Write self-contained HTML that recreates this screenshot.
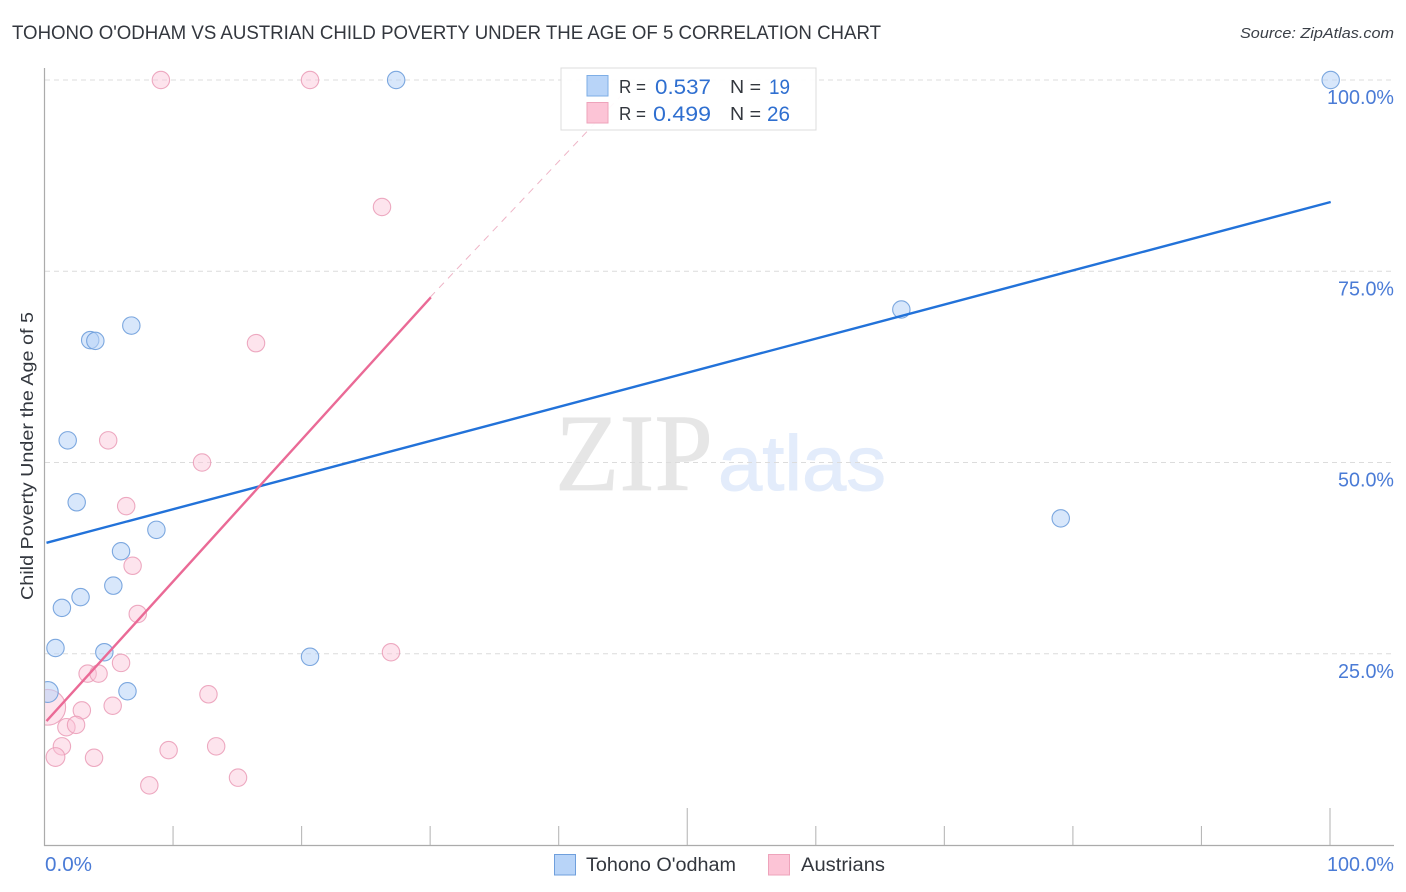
<!DOCTYPE html>
<html>
<head>
<meta charset="utf-8">
<title>Tohono O'odham vs Austrian Child Poverty Correlation Chart</title>
<style>
html,body{margin:0;padding:0;background:#fff;}
svg{display:block;font-family:"Liberation Sans",sans-serif;}
</style>
</head>
<body>
<svg id="chart" xmlns="http://www.w3.org/2000/svg" width="1406" height="892" viewBox="0 0 1406 892">
  <defs>
    <clipPath id="plot-clip"><rect x="45" y="60" width="1361" height="785"/></clipPath>
  </defs>
  <text x="12" y="39" font-size="19" fill="#33373e" textLength="869" lengthAdjust="spacingAndGlyphs">TOHONO O'ODHAM VS AUSTRIAN CHILD POVERTY UNDER THE AGE OF 5 CORRELATION CHART</text>
  <text x="1394" y="38" font-size="15" font-style="italic" fill="#3a3f47" text-anchor="end" textLength="154" lengthAdjust="spacingAndGlyphs">Source: ZipAtlas.com</text>
  <text transform="translate(33,456) rotate(-90)" font-size="17.5" fill="#33373e" text-anchor="middle" textLength="288" lengthAdjust="spacingAndGlyphs">Child Poverty Under the Age of 5</text>

  <g>
    <text x="555" y="490" font-family="'Liberation Serif',serif" font-size="110" fill="#e6e6e6" stroke="#e6e6e6" stroke-width="0.7" textLength="158" lengthAdjust="spacingAndGlyphs">ZIP</text>
    <text x="718" y="490" font-size="78" fill="#e3ecfb" stroke="#e3ecfb" stroke-width="1" textLength="168" lengthAdjust="spacingAndGlyphs">atlas</text>
  </g>

  <g id="grid"></g>
  <g id="axes"></g>
  <g id="points" clip-path="url(#plot-clip)"></g>
  <g id="trends"></g>
  <g id="labels"></g>

  <g>
    <rect x="561" y="68" width="255" height="62" fill="#fff" fill-opacity="0.93" stroke="#dcdcdc" stroke-width="1"/>
    <rect x="587" y="75.5" width="21" height="20.5" fill="#b8d4f8" stroke="#7eaee6" stroke-width="1"/>
    <rect x="587" y="102.5" width="21" height="20.5" fill="#fcc4d6" stroke="#eea3bb" stroke-width="1"/>
    <text x="619" y="93" font-size="18" fill="#33373e" textLength="27" lengthAdjust="spacingAndGlyphs">R =</text>
    <text x="711" y="94" font-size="21" fill="#2f6fd0" text-anchor="end" textLength="56" lengthAdjust="spacingAndGlyphs">0.537</text>
    <text x="730" y="93" font-size="18" fill="#33373e" textLength="31" lengthAdjust="spacingAndGlyphs">N =</text>
    <text x="790" y="94" font-size="21" fill="#2f6fd0" text-anchor="end" textLength="21" lengthAdjust="spacingAndGlyphs">19</text>
    <text x="619" y="120" font-size="18" fill="#33373e" textLength="27" lengthAdjust="spacingAndGlyphs">R =</text>
    <text x="711" y="121" font-size="21" fill="#2f6fd0" text-anchor="end" textLength="58" lengthAdjust="spacingAndGlyphs">0.499</text>
    <text x="730" y="120" font-size="18" fill="#33373e" textLength="31" lengthAdjust="spacingAndGlyphs">N =</text>
    <text x="790" y="121" font-size="21" fill="#2f6fd0" text-anchor="end" textLength="23" lengthAdjust="spacingAndGlyphs">26</text>
  </g>

  <g>
    <rect x="554.5" y="854.5" width="21" height="20.5" fill="#b8d4f8" stroke="#6f9fdc" stroke-width="1"/>
    <text x="586" y="871" font-size="19" fill="#33373e" textLength="150" lengthAdjust="spacingAndGlyphs">Tohono O'odham</text>
    <rect x="768.5" y="854.5" width="21" height="20.5" fill="#fcc4d6" stroke="#eea3bb" stroke-width="1"/>
    <text x="801" y="871" font-size="19" fill="#33373e" textLength="84" lengthAdjust="spacingAndGlyphs">Austrians</text>
  </g>
</svg>
<script>
const yGridValues = [100, 75, 50, 25];
const yTickLabels = ['100.0%', '75.0%', '50.0%', '25.0%'];
const xTickValues = [10, 20, 30, 40, 50, 60, 70, 80, 90, 100];
const xMajorTicks = [50, 100];
const xEndLabels = ['0.0%', '100.0%'];
const xEndValues = [0, 100];

const tohonoX = [100, 27.3, 66.6, 79, 6.7, 3.5, 3.9, 1.75, 2.45, 8.65, 5.9, 5.3, 2.75, 1.3, 0.8, 4.6, 20.6, 6.4, 0.2];
const tohonoY = [100, 100, 70, 42.7, 67.9, 66, 65.9, 52.9, 44.8, 41.2, 38.4, 33.9, 32.4, 31, 25.75, 25.2, 24.6, 20.1, 20];
const tohonoSize = [1, 1, 1, 1, 1, 1, 1, 1, 1, 1, 1, 1, 1, 1, 1, 1, 1, 1, 1.2];

const austrianX = [9, 20.6, 26.2, 16.4, 4.9, 12.2, 6.3, 6.8, 7.2, 26.9, 5.9, 3.3, 4.15, 12.7, 5.25, 2.85, 0.2, 1.65, 2.4, 1.3, 0.8, 3.8, 9.6, 13.3, 8.1, 15];
const austrianY = [100, 100, 83.4, 65.6, 52.9, 50, 44.3, 36.5, 30.2, 25.2, 23.8, 22.4, 22.4, 19.7, 18.2, 17.6, 18, 15.4, 15.7, 12.9, 11.5, 11.4, 12.4, 12.9, 7.8, 8.8];
const austrianSize = [1, 1, 1, 1, 1, 1, 1, 1, 1, 1, 1, 1, 1, 1, 1, 1, 2.05, 1, 1, 1, 1.08, 1, 1, 1, 1, 1];

const tohonoTrendX = [0.1, 100];
const tohonoTrendY = [39.5, 84.05];
const austrianTrendX = [0.1, 30];
const austrianTrendY = [16.2, 71.6];
const austrianDashX = [30, 46];
const austrianDashY = [71.6, 100];

const xScale = v => 44.5 + v * 12.855;
const yScale = v => 845 - v * 7.65;
const SVG_NS = 'http://www.w3.org/2000/svg';

function make(tag, attrs, parent) {
  const el = document.createElementNS(SVG_NS, tag);
  Object.keys(attrs).forEach(k => el.setAttribute(k, attrs[k]));
  parent.appendChild(el);
  return el;
}

const gridG = document.getElementById('grid');
const axesG = document.getElementById('axes');
const pointsG = document.getElementById('points');
const trendsG = document.getElementById('trends');
const labelsG = document.getElementById('labels');

yGridValues.forEach((v, i) => {
  const line = make('line', {x1: 45, x2: 1394, y1: yScale(v), y2: yScale(v), stroke: '#dcdcdc', 'stroke-width': 1, 'stroke-dasharray': '5 4'}, gridG);
  
  
  const label = make('text', {x: 1394, y: yScale(v) + 24, 'font-size': 20, fill: '#4a7bd6', 'text-anchor': 'end', textLength: yTickLabels[i].length === 6 ? 67 : 56, lengthAdjust: 'spacingAndGlyphs'}, labelsG);
  label.textContent = yTickLabels[i];
  
  
});

const yAxisLine = make('line', {x1: 44.5, x2: 44.5, y1: 68, y2: 846, stroke: '#ababab', 'stroke-width': 1.2}, axesG);


const xAxisLine = make('line', {x1: 44, x2: 1394, y1: 845.5, y2: 845.5, stroke: '#ababab', 'stroke-width': 1.2}, axesG);



xTickValues.forEach(v => {
  const top = xMajorTicks.includes(v) ? 808 : 826;
  const tick = make('line', {x1: xScale(v), x2: xScale(v), y1: top, y2: 845, stroke: '#b8b8b8', 'stroke-width': 1.1}, axesG);
  
  
});

xEndValues.forEach((v, i) => {
  const label = make('text', {x: i === 0 ? 45 : 1394, y: 871, 'font-size': 20, fill: '#4a7bd6', 'text-anchor': i === 0 ? 'start' : 'end', textLength: i === 0 ? 47 : 67, lengthAdjust: 'spacingAndGlyphs'}, labelsG);
  label.textContent = xEndLabels[i];
  
  
});

austrianX.forEach((v, i) => {
  const c = make('circle', {cx: xScale(v) + 0.7, cy: yScale(austrianY[i]), r: 8.7 * austrianSize[i], fill: '#fbc4d6', 'fill-opacity': 0.45, stroke: '#ea9bb6', 'stroke-opacity': 0.85, 'stroke-width': 1.1}, pointsG);
  
  
});

tohonoX.forEach((v, i) => {
  const c = make('circle', {cx: xScale(v) + 0.7, cy: yScale(tohonoY[i]), r: 8.7 * tohonoSize[i], fill: '#b8d4f8', 'fill-opacity': 0.55, stroke: '#6f9fdc', 'stroke-opacity': 0.9, 'stroke-width': 1.1}, pointsG);
  
  
});

const dash = make('line', {x1: xScale(austrianDashX[0]), y1: yScale(austrianDashY[0]), x2: xScale(austrianDashX[1]), y2: yScale(austrianDashY[1]), stroke: '#eeb4c6', 'stroke-width': 1, 'stroke-dasharray': '7 6'}, trendsG);



const blueTrend = make('line', {x1: xScale(tohonoTrendX[0]) + 0.7, y1: yScale(tohonoTrendY[0]), x2: xScale(tohonoTrendX[1]) + 0.7, y2: yScale(tohonoTrendY[1]), stroke: '#2272d9', 'stroke-width': 2.4}, trendsG);



const pinkTrend = make('line', {x1: xScale(austrianTrendX[0]) + 0.7, y1: yScale(austrianTrendY[0]), x2: xScale(austrianTrendX[1]) + 0.7, y2: yScale(austrianTrendY[1]), stroke: '#ea6a96', 'stroke-width': 2.4}, trendsG);


</script>
</body>
</html>
